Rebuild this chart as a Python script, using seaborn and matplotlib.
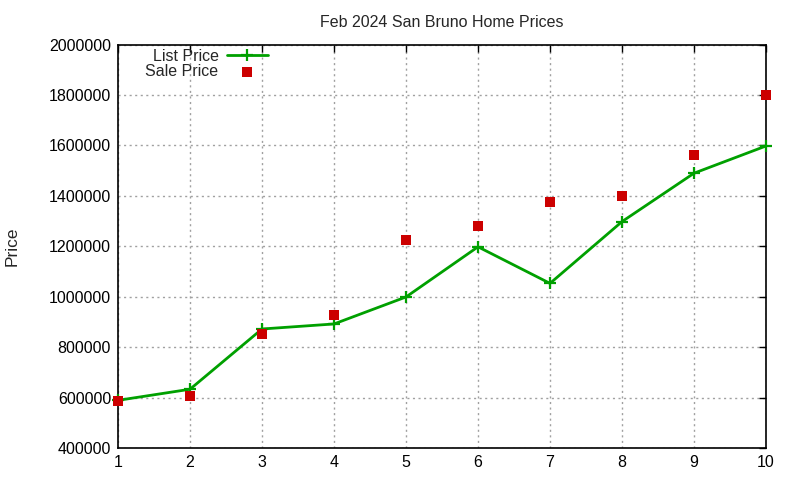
import pandas as pd
import matplotlib
matplotlib.use("Agg")
import matplotlib.pyplot as plt
import seaborn as sns

homes = [1, 2, 3, 4, 5, 6, 7, 8, 9, 10]
list_price = [589000, 633000, 872000, 892000, 999000, 1198000, 1053000, 1298000, 1490000, 1598000]
sale_price = [586000, 606000, 854000, 929000, 1226000, 1282000, 1376000, 1401000, 1561000, 1800000]
y_ticks = [400000, 600000, 800000, 1000000, 1200000, 1400000, 1600000, 1800000, 2000000]


def main():
    df = pd.DataFrame({"home": homes, "list": list_price, "sale": sale_price})

    sns.set_style("white")
    plt.rcParams["font.family"] = ["Liberation Sans", "DejaVu Sans"]
    plt.rcParams["font.size"] = 11.5

    fig = plt.figure(figsize=(8, 4.8), dpi=100)
    ax = fig.add_axes([0.1475, 0.0667, 0.81, 0.8403])

    sns.lineplot(data=df, x="home", y="list", ax=ax, color="#00a000", linewidth=2,
                 marker="+", markersize=9, markeredgewidth=1.6, markeredgecolor="#00a000",
                 label="List Price", clip_on=False, zorder=3)
    sns.scatterplot(data=df, x="home", y="sale", ax=ax, color="#cc0000", marker="s",
                    s=55, linewidth=0, label="Sale Price", zorder=4, clip_on=False)

    ax.set_xlim(1, 10)
    ax.set_ylim(400000, 2000000)
    ax.set_xticks(homes)
    ax.set_yticks(y_ticks)
    ax.set_yticklabels([str(v) for v in y_ticks])
    ax.grid(True, color="#a0a0a0", linestyle=(0, (1.5, 2.5)), linewidth=1)
    ax.tick_params(direction="in", top=True, right=True, length=5, width=1,
                   labelsize=11.5, colors="black", pad=5)
    for s in ax.spines.values():
        s.set_color("black")
        s.set_linewidth(1.2)

    ax.set_xlabel("")
    ax.set_ylabel("Price", fontsize=12.5, labelpad=21)
    ax.set_title("Feb 2024 San Bruno Home Prices", fontsize=11.5, pad=13)

    ax.legend(loc="upper left", bbox_to_anchor=(0.03, 1.01), frameon=False,
              markerfirst=False, handlelength=2.6, labelspacing=0.05,
              borderpad=0, fontsize=11.5, handletextpad=0.5)

    fig.savefig("out.png", dpi=100)


if __name__ == "__main__":
    main()
